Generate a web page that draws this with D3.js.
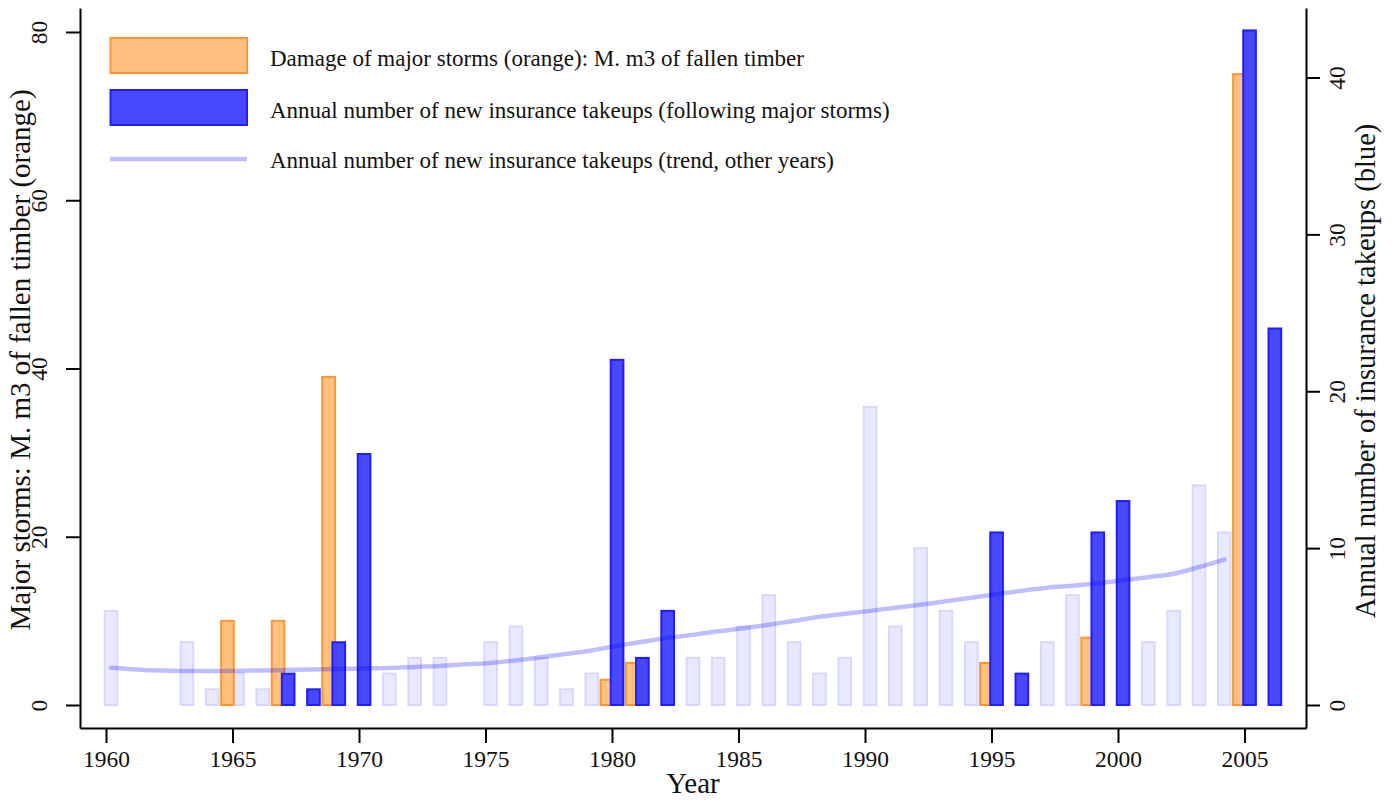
<!DOCTYPE html>
<html><head><meta charset="utf-8">
<script src="https://cdn.jsdelivr.net/npm/d3@7"></script>
<style>
html,body{margin:0;padding:0;background:#fff;}
svg{display:block;font-family:"Liberation Serif","Times New Roman",serif;}
</style></head>
<body><svg id="c" width="1397" height="801"></svg>
<script>
// ---------- data ----------
const stormYears   = [1965,1967,1969,1980,1981,1995,1999,2005];
const stormDamage  = [10,10,39,3,5,5,8,75];

const takeupStormYears  = [1967,1968,1969,1970,1980,1981,1982,1995,1996,1999,2000,2005,2006];
const takeupStormValues = [2,1,4,16,22,3,6,11,2,11,13,43,24];

const takeupOtherYears  = [1960,1963,1964,1965,1966,1971,1972,1973,1975,1976,1977,1978,1979,1983,1984,1985,1986,1987,1988,1989,1990,1991,1992,1993,1994,1997,1998,2001,2002,2003,2004];
const takeupOtherValues = [6,4,1,2,1,2,3,3,4,5,3,1,2,3,3,5,7,4,2,3,19,5,10,6,4,4,7,4,6,14,11];

const trendYears  = [1960,1961,1962,1963,1964,1965,1966,1967,1968,1969,1970,1971,1972,1973,1974,1975,1976,1977,1978,1979,1980,1981,1982,1983,1984,1985,1986,1987,1988,1989,1990,1991,1992,1993,1994,1995,1996,1997,1998,1999,2000,2001,2002,2003,2004];
const trendValues = [2.38,2.27,2.2,2.17,2.17,2.18,2.2,2.24,2.27,2.3,2.33,2.36,2.43,2.49,2.59,2.68,2.84,3.04,3.26,3.48,3.77,4.03,4.28,4.47,4.70,4.89,5.11,5.37,5.62,5.81,6.0,6.2,6.39,6.61,6.84,7.06,7.28,7.48,7.6,7.76,7.96,8.15,8.37,8.79,9.27];

const xTicks     = [1960,1965,1970,1975,1980,1985,1990,1995,2000,2005];
const leftTicks  = [0,20,40,60,80];
const rightTicks = [0,10,20,30,40];

const legendLabels = [
  "Damage of major storms (orange): M. m3 of fallen timber",
  "Annual number of new insurance takeups (following major storms)",
  "Annual number of new insurance takeups (trend, other years)"
];
const xTitle = "Year";
const leftTitle = "Major storms: M. m3 of fallen timber (orange)";
const rightTitle = "Annual number of insurance takeups (blue)";

// ---------- layout ----------
const svg = d3.select("#c");
const L = 80, R = 1306, B = 728, T = 8;
const x  = d3.scaleLinear().domain([1960,2005]).range([106,1244.5]);
const yL = d3.scaleLinear().domain([0,80]).range([705,32]);
const yR = d3.scaleLinear().domain([0,40]).range([705,77.5]);
const barW = x(1960.5) - x(1960);
const off = 0.2;

const C = {
  orangeFill:"rgb(255,192,128)", orangeStroke:"rgb(255,150,50)",
  blueFill:"rgb(72,72,255)", blueStroke:"rgb(30,30,255)",
  lightFill:"rgb(232,232,255)", lightStroke:"rgb(216,216,255)",
  trend:"rgba(0,0,255,0.25)", text:"#111"
};

// light bars (other years)
svg.append("g").selectAll("rect")
  .data(takeupOtherYears.map((yr,i)=>({yr, v:takeupOtherValues[i]})))
  .join("rect")
  .attr("x", d=>x(d.yr+off)-barW/2).attr("width", barW)
  .attr("y", d=>yR(d.v)).attr("height", d=>yR(0)-yR(d.v))
  .attr("fill", C.lightFill).attr("stroke", C.lightStroke).attr("stroke-width",2);

// orange bars
svg.append("g").selectAll("rect")
  .data(stormYears.map((yr,i)=>({yr, v:stormDamage[i]})))
  .join("rect")
  .attr("x", d=>x(d.yr-off)-barW/2).attr("width", barW)
  .attr("y", d=>yL(d.v)).attr("height", d=>yL(0)-yL(d.v))
  .attr("fill", C.orangeFill).attr("stroke", C.orangeStroke).attr("stroke-width",2);

// blue bars
svg.append("g").selectAll("rect")
  .data(takeupStormYears.map((yr,i)=>({yr, v:takeupStormValues[i]})))
  .join("rect")
  .attr("x", d=>x(d.yr+off)-barW/2).attr("width", barW)
  .attr("y", d=>yR(d.v)).attr("height", d=>yR(0)-yR(d.v))
  .attr("fill", C.blueFill).attr("stroke", C.blueStroke).attr("stroke-width",2);

// trend line
svg.append("path")
  .datum(trendYears.map((yr,i)=>[yr, trendValues[i]]))
  .attr("d", d3.line().x(d=>x(d[0]+off)).y(d=>yR(d[1])).curve(d3.curveMonotoneX))
  .attr("fill","none").attr("stroke", C.trend).attr("stroke-width",4.5).attr("stroke-linecap","round");

// ---------- axes ----------
const xa = x.copy().domain([x.invert(L), x.invert(R)]).range([L,R]);
const gx = svg.append("g").attr("transform",`translate(0,${B})`)
  .call(d3.axisBottom(xa).tickValues(xTicks).tickFormat(d3.format("d")).tickSize(15).tickSizeOuter(0).tickPadding(8));
const yLa = yL.copy().domain([yL.invert(B), yL.invert(T)]).range([B,T]);
const gl = svg.append("g").attr("transform",`translate(${L},0)`)
  .call(d3.axisLeft(yLa).tickValues(leftTicks).tickSize(14).tickSizeOuter(0));
const yRa = yR.copy().domain([yR.invert(B), yR.invert(T)]).range([B,T]);
const gr = svg.append("g").attr("transform",`translate(${R},0)`)
  .call(d3.axisRight(yRa).tickValues(rightTicks).tickSize(14).tickSizeOuter(0));

[gx,gl,gr].forEach(g=>{
  g.selectAll(".domain,.tick line").attr("stroke","#000").attr("stroke-width",2);
  g.selectAll("text").attr("fill",C.text).style("font-size","23.5px").style("font-family","Liberation Serif, serif");
});
gx.selectAll("text").attr("dy",null).attr("y",39);
gl.selectAll("text").attr("x",null).attr("dy",null).attr("text-anchor","middle")
  .attr("transform",`translate(-33,0) rotate(-90)`);
gr.selectAll("text").attr("x",null).attr("dy",null).attr("text-anchor","middle")
  .attr("transform",`translate(39,0) rotate(-90)`);

// titles
svg.append("text").attr("x",(L+R)/2).attr("y",793).attr("text-anchor","middle")
  .attr("fill",C.text).style("font-size","29px").text(xTitle);
svg.append("text").attr("transform","translate(30,360) rotate(-90)").attr("text-anchor","middle")
  .attr("fill",C.text).style("font-size","29px").text(leftTitle);
svg.append("text").attr("transform","translate(1375,371) rotate(-90)").attr("text-anchor","middle")
  .attr("fill",C.text).style("font-size","28.5px").text(rightTitle);

// ---------- legend ----------
const lg = svg.append("g");
lg.append("rect").attr("x",110.5).attr("y",38).attr("width",136.5).attr("height",35)
  .attr("fill",C.orangeFill).attr("stroke",C.orangeStroke).attr("stroke-width",2);
lg.append("rect").attr("x",110.5).attr("y",90).attr("width",136.5).attr("height",35)
  .attr("fill",C.blueFill).attr("stroke",C.blueStroke).attr("stroke-width",2);
lg.append("line").attr("x1",110).attr("x2",247).attr("y1",159).attr("y2",159)
  .attr("stroke",C.trend).attr("stroke-width",4.5);
lg.selectAll("text").data(legendLabels).join("text")
  .attr("x",270).attr("y",(d,i)=>[66,118,168][i])
  .attr("fill",C.text).style("font-size","23px").text(d=>d);
</script></body></html>
